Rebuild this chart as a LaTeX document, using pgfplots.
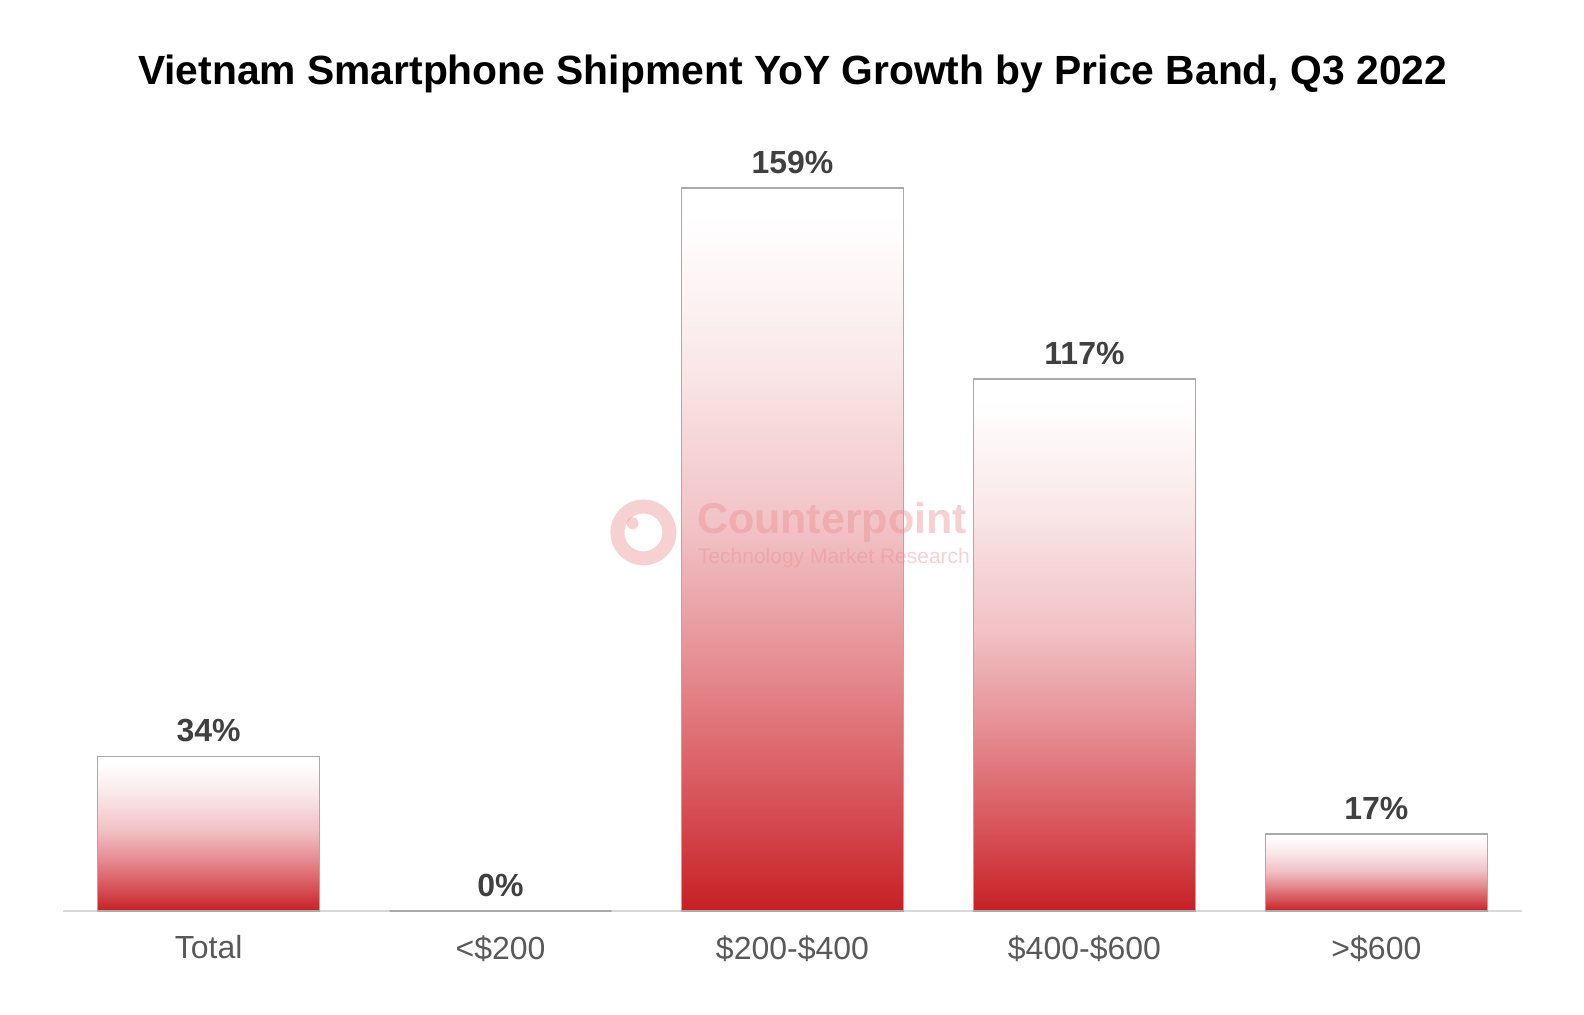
\documentclass[border=0pt]{standalone}
\usepackage{pgfplots}
\pgfplotsset{compat=1.18}
\usepackage{fontspec}
\setmainfont{Liberation Sans}
\definecolor{barred}{RGB}{198,32,36}
\definecolor{shA}{RGB}{214,78,84}
\definecolor{shB}{RGB}{228,135,140}
\definecolor{shC}{RGB}{241,192,196}
\definecolor{shD}{RGB}{250,232,233}
\definecolor{bordergray}{RGB}{170,170,170}
\definecolor{ticklab}{RGB}{89,89,89}
\definecolor{datalab}{RGB}{64,64,64}
\definecolor{axisgray}{RGB}{217,217,217}
\definecolor{wmpink}{RGB}{236,140,142}
\pgfdeclareverticalshading{barshade}{100bp}{color(0bp)=(barred); color(25bp)=(barred); color(32bp)=(shA); color(41bp)=(shB); color(51bp)=(shC); color(63bp)=(shD); color(73bp)=(white); color(100bp)=(white)}
\pgfplotsset{barsty/.style={draw=bordergray, line width=0.8pt, shade, shading=barshade}}
\begin{document}
\begin{tikzpicture}
\path[use as bounding box] (-31.3pt,-51.4pt) rectangle (760.7pt,455.6pt);
\begin{axis}[
  at={(0,0)}, anchor=south west,
  scale only axis, width=729.9pt, height=386.7pt,
  xmin=-0.5, xmax=4.5, ymin=0, ymax=170,
  ybar, bar width=111pt, bar shift=0pt,
  axis y line=none, axis x line=bottom,
  x axis line style={-, draw=axisgray, line width=0.8pt},
  xtick={0,1,2,3,4},
  xticklabels={Total,{<\$200},{\$200-\$400},{\$400-\$600},{>\$600}},
  major tick length=0pt,
  xticklabel style={font=\fontsize{16}{19}\selectfont, text=ticklab, inner sep=0pt, yshift=-12pt},
  clip=false,
]
\addplot[barsty] coordinates {(0,34)};
\addplot[draw=bordergray, line width=0.8pt, fill=none] coordinates {(1,0)};
\addplot[barsty] coordinates {(2,159)};
\addplot[barsty] coordinates {(3,117)};
\addplot[barsty] coordinates {(4,17)};
\addplot[draw=none, fill=none, nodes near coords={\pgfmathprintnumber{\pgfplotspointmeta}\%},
  every node near coord/.style={font=\bfseries\fontsize{16}{19}\selectfont, text=datalab, anchor=south, inner sep=0pt, yshift=7pt, /pgf/number format/assume math mode=true}]
  coordinates {(0,34) (1,0) (2,159) (3,117) (4,17)};
\end{axis}
% watermark
\begin{scope}[opacity=0.4]
\draw[wmpink, line width=7pt] (290.4pt,189.4pt) circle (13pt);
\fill[wmpink] (285pt,194pt) circle (3pt);
\node[anchor=west, inner sep=0pt, text=wmpink, font=\bfseries\fontsize{21.5}{24}\selectfont] at (317pt,194.5pt) {Counterpoint};
\node[anchor=west, inner sep=0pt, text=wmpink, font=\fontsize{10.5}{12}\selectfont] at (317.5pt,176.8pt) {Technology Market Research};
\end{scope}
\node[font=\bfseries\fontsize{20.4}{24}\selectfont, text=black] at (365pt,418.7pt) {Vietnam Smartphone Shipment YoY Growth by Price Band, Q3 2022};
\end{tikzpicture}
\end{document}
